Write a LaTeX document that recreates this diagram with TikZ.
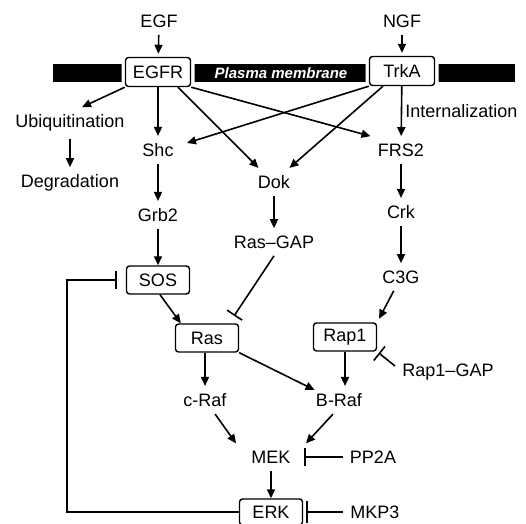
\documentclass[tikz,border=0pt]{standalone}
\usepackage{fontspec}
\setmainfont{Liberation Sans}
\usetikzlibrary{positioning,arrows.meta}

\tikzset{
  box/.style={draw, fill=white, rounded corners=1.5pt, line width=0.7pt,
    minimum width=31.5pt, minimum height=14pt, inner sep=2pt},
  membox/.style={box, minimum width=32.5pt, minimum height=14.5pt,
    preaction={draw=white, line width=4pt}},
  inhib/.style={-{Bar[width=9pt]}},
}

\begin{document}
\begin{tikzpicture}[x=0.5pt, y=-0.5pt, node distance=32.5pt, line width=0.8pt,
    >={Triangle[length=4.5pt,width=4pt]}, font=\fontsize{9}{10}\selectfont]
  \useasboundingbox (0,0) rectangle (526,524);

  % membrane
  \fill (53,64) rectangle (515,82);
  \node[text=white, font=\fontsize{7.5}{9}\selectfont\bfseries\itshape] (pm) at (281,73) {Plasma membrane};

  \node (EGF) at (159,21) {EGF};
  \node (NGF) at (402,21) {NGF};
  \node[membox] (EGFR) at (158,72) {EGFR};
  \node[membox] (TrkA) at (402,71) {TrkA};

  \node (Ubiq) at (70,123) {Ubiquitination};
  \node[below of=Ubiq, node distance=30pt] (Degr) {Degradation};
  \node (Shc) at (158,150) {Shc};
  \node[below of=Shc] (Grb2) {Grb2};
  \node[box, below of=Grb2] (SOS) {SOS};
  \node (Dok) at (274,182) {Dok};
  \node[below of=Dok, node distance=30pt] (RasGAP) {Ras--GAP};
  \node (FRS2) at (401,150) {FRS2};
  \node (Crk) at (401,212) {Crk};
  \node (C3G) at (401,277) {C3G};

  \node[box] (Ras) at (207,338) {Ras};
  \node[box] (Rap1) at (345,337) {Rap1};
  \node (RapGAP) at (448,372) {Rap1--GAP};
  \node (cRaf) at (205,400) {c-Raf};
  \node (BRaf) at (339,400) {B-Raf};
  \node (MEK) at (271,457) {MEK};
  \node (PP2A) at (373,457) {PP2A};
  \node[box, minimum height=13pt] (ERK) at (271,512) {ERK};
  \node (MKP3) at (375,512) {MKP3};
  \coordinate (fb) at (67,280);

  \path
    (EGF) edge[->, shorten >=1.5pt] (EGFR)
    (NGF) edge[->, shorten >=1.5pt] (TrkA)
    (EGFR.south west) edge[->] ([xshift=6pt]Ubiq.north)
    (Ubiq) edge[->] (Degr)
    (EGFR) edge[->] (Shc)
    ([xshift=10pt]EGFR.south) edge[->] ([xshift=4pt]Dok.north west)
    (EGFR.south east) edge[->] (FRS2.north west)
    (TrkA.south west) edge[->] ([shift={(3pt,3.5pt)}]Shc.east)
    ([xshift=-9.5pt]TrkA.south) edge[->] ([xshift=-4pt]Dok.north east)
    (TrkA) edge[->] node[right, inner sep=1.5pt] {Internalization} (FRS2)
    (Shc) edge[->] (Grb2)
    (Grb2) edge[->] (SOS)
    (FRS2) edge[->] (Crk)
    (Crk) edge[->] (C3G)
    (Dok) edge[->] (RasGAP)
    ;

  \path
    ([xshift=1pt]SOS.south) edge[->] ([xshift=3pt]Ras.north west)
    (C3G) edge[->, shorten >=2pt] (Rap1.north east)
    (RasGAP.south) edge[inhib, shorten >=4.5pt] ([xshift=-5pt]Ras.north east)
    ([yshift=3pt]RapGAP.west) edge[inhib, shorten >=1pt] (Rap1.south east)
    (Ras.south -| cRaf.north) edge[->] (cRaf)
    (Ras.south east) edge[->] ([shift={(3pt,-2pt)}]BRaf.north west)
    (Rap1.south) edge[->] (Rap1.south |- BRaf.north)
    (cRaf) edge[->] ([xshift=-4pt]MEK.north west)
    ([xshift=-3pt]BRaf.south) edge[->] ([xshift=4pt]MEK.north east)
    (MEK) edge[->] (ERK)
    (PP2A) edge[inhib, shorten >=3pt] (MEK)
    (MKP3) edge[-{Bar[width=11pt]}, shorten >=1.5pt] (ERK)
    ;

  % feedback
  \draw[inhib, shorten >=4.5pt] (ERK.west) -| (fb) |- (SOS.west);
\end{tikzpicture}
\end{document}
